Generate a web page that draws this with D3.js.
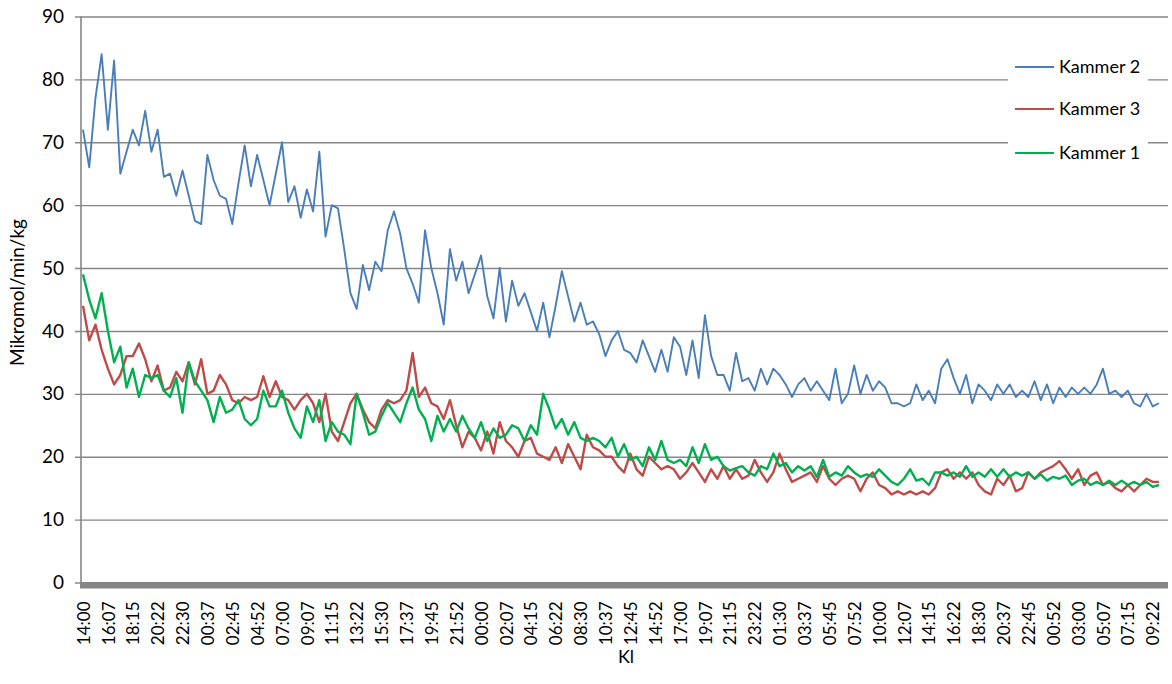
<!DOCTYPE html>
<html>
<head>
<meta charset="utf-8">
<script src="https://cdn.jsdelivr.net/npm/d3@7/dist/d3.min.js"></script>
<style>
  body { margin: 0; background: #fff; }
  text { font-family: Lato, "Open Sans", sans-serif; fill: #000; }
</style>
</head>
<body>
<script>
// x-axis category labels (one every 4 samples)
const timeLabels = ["14:00","16:07","18:15","20:22","22:30","00:37","02:45","04:52","07:00","09:07",
  "11:15","13:22","15:30","17:37","19:45","21:52","00:00","02:07","04:15","06:22",
  "08:30","10:37","12:45","14:52","17:00","19:07","21:15","23:22","01:30","03:37",
  "05:45","07:52","10:00","12:07","14:15","16:22","18:30","20:37","22:45","00:52",
  "03:00","05:07","07:15","09:22"];
const perLabel = 4;

// Mikromol/min/kg
const kammer2 = [72,66,77,84,72,83,65,68.5,72,69.5,
  75,68.5,72,64.5,65,61.5,65.5,61.5,57.5,57,
  68,64,61.5,61,57,63.5,69.5,63,68,64,
  60,65,70,60.5,63,58,62.5,59,68.5,55,
  60,59.5,53,46,43.5,50.5,46.5,51,49.5,56,
  59,55.5,50,47.5,44.5,56,50,46,41,53,
  48,51,46,49,52,45.5,42,50,41.5,48,
  44,46,43,40,44.5,39,44,49.5,45.5,41.5,
  44.5,41,41.5,39.5,36,38.5,40,37,36.5,35,
  38.5,36,33.5,37,33.5,39,37.5,33,38.5,32.5,
  42.5,36,33,33,30.5,36.5,32,32.5,30.5,34,
  31.5,34,33,31.5,29.5,31.5,32.5,30.5,32,30.5,
  29,34,28.5,30,34.5,30,33,30.5,32,31,
  28.5,28.5,28,28.5,31.5,29,30.5,28.5,34,35.5,
  32.5,30,33,28.5,31.5,30.5,29,31.5,30,31.5,
  29.5,30.5,29.5,32,29,31.5,28.5,31,29.5,31,
  30,31,30,31.5,34,30,30.5,29.5,30.5,28.5,
  28,30,28,28.5];
const kammer3 = [44,38.5,41,37,34,31.5,33,36,36,38,
  35.5,32,34.5,30.5,31,33.5,32,35,31.5,35.5,
  30,30.5,33,31.5,29,28.5,29.5,29,29.5,32.8,
  29.5,32,29.5,29,27.5,29,30,28.5,25.5,30,
  24,22.5,25.5,28.5,30,27.5,25.5,24.5,27.5,29,
  28.5,29,30.5,36.5,29.5,31,28.5,28,26,29,
  25,21.5,24,23,21,24,20.5,25.5,22.5,21.5,
  20,22.5,23,20.5,20,19.5,21.5,19,22,20,
  18,23.5,21.5,21,20,20,18.5,17.5,20.5,18,
  17,20,19,18,18.5,18,16.5,17.5,19,17.5,
  16,18,16.5,18.5,16.5,18,16.5,17,19.5,17.5,
  16,17.5,20.5,18,16,16.5,17,17.5,16,18.5,
  16.5,15.5,16.5,17,16.5,14.5,16.5,17.5,15.5,15,
  14,14.5,14,14.5,14,14.5,14,15,17.5,18,
  16.5,17.5,16.5,17.5,15.5,14.5,14,16.5,15.5,17,
  14.5,15,17.5,16.5,17.5,18,18.5,19.3,18,16.5,
  18,15.5,17,17.5,15.5,16,15,14.5,15.5,14.5,
  15.5,16.5,16,16];
const kammer1 = [49,45,42,46,40,35,37.5,31,34,29.5,
  33,32.5,33,30.5,29.5,32.5,27,35,32,30.5,
  29,25.5,29.5,27,27.5,29,26,25,26,30.5,
  28,28,30.5,27,24.5,23,28,25.5,29,22.5,
  25.5,24,23.5,22,30,27,23.5,24,26.5,28.5,
  27,25.5,28.5,31,27.5,26,22.5,26.5,24,26,
  24,26.5,24.5,23,25.5,22.5,24.5,23,23.5,25,
  24.5,22.5,25,23.5,30,27.5,24.5,26,23.5,25.5,
  23,22.5,23,22.5,21.5,23,20,22,19.5,20,
  18.5,21.5,19.5,22.5,19.5,19,19.5,18.5,21.5,19,
  22,19.5,20,18.5,17.8,18.2,18.5,17.5,17,18.5,
  18,20.5,18.5,19,17.5,18.5,17.8,18.5,16.8,19.5,
  16.8,17.5,17,18.5,17.5,16.8,17.2,16.8,18,17,
  16,15.5,16.5,18,16.2,16.5,15.5,17.5,17.5,17,
  17.5,16.8,18.5,16.8,17.5,16.8,18,16.8,18,16.8,
  17.5,17,17.5,16.5,17.2,16.2,16.8,16.5,17,15.5,
  16.2,16.5,15.5,16,15.5,16.2,15.5,16.2,15.5,16,
  15.5,16,15.2,15.5];

const seriesNames = ["Kammer 2", "Kammer 3", "Kammer 1"];
const seriesColors = ["#4a7ebb", "#be4b48", "#00b050"];
const yTicks = d3.range(0, 91, 10);

((g) => {
  const w = 1172, h = 684;
  const left = 81, right = 1168, top = 16.5, bottom = 582.5;

  const svg = d3.select("body").append("svg")
    .attr("width", w)
    .attr("height", h);

  const yScale = d3.scaleLinear().domain([0, 90]).range([bottom, top]);
  // label index -> pixel
  const xScale = d3.scaleLinear().domain([0, timeLabels.length - 1]).range([83, 1152.7]);

  // gridlines + y labels
  const gy = svg.append("g")
    .attr("transform", "translate(" + (left - 6) + ",0)")
    .call(d3.axisLeft(yScale).tickValues(yTicks).tickSize(0));
  gy.select(".domain").remove();
  gy.selectAll(".tick line")
    .attr("stroke", "#868686")
    .attr("stroke-width", 1.4)
    .attr("x1", right - left + 6).attr("x2", 0);
  gy.selectAll(".tick text")
    .attr("x", -11)
    .style("font-size", "19px");

  // y axis line
  svg.append("line")
    .attr("x1", left).attr("x2", left)
    .attr("y1", top).attr("y2", bottom)
    .attr("stroke", "#868686")
    .attr("stroke-width", 1.6);

  // x axis: dense tick marks look like a solid band
  svg.append("rect")
    .attr("x", left - 1)
    .attr("y", yScale(0) - 0.5)
    .attr("width", right - left + 1)
    .attr("height", 6.5)
    .attr("fill", "#868686");

  const gx = svg.append("g")
    .attr("transform", "translate(0," + (yScale(0) + 6) + ")")
    .call(d3.axisBottom(xScale).tickValues(d3.range(timeLabels.length)).tickFormat((i) => timeLabels[i]).tickSize(0));
  gx.select(".domain").remove();
  gx.selectAll(".tick text")
    .attr("transform", "rotate(-90)")
    .attr("text-anchor", "end")
    .attr("x", -13)
    .attr("y", 0)
    .attr("dy", "0.36em")
    .style("font-size", "17px");

  // axis titles
  svg.append("text")
    .attr("transform", "translate(24," + ((top + bottom) / 2 - 7) + ") rotate(-90)")
    .attr("text-anchor", "middle")
    .style("font-size", "19px")
    .text("Mikromol/min/kg");
  svg.append("text")
    .attr("x", 626).attr("y", 663)
    .attr("text-anchor", "middle")
    .style("font-size", "18px")
    .text("Kl");

  // lines
  const line = d3.line()
    .x((d, i) => xScale(i / perLabel))
    .y((d) => yScale(d));

  const allSeries = [kammer2, kammer3, kammer1];
  const widths = [1.9, 2.4, 2.4];
  allSeries.forEach((s, k) => {
    svg.append("path")
      .datum(s)
      .attr("fill", "none")
      .attr("stroke", seriesColors[k])
      .attr("stroke-width", widths[k])
      .attr("stroke-linejoin", "round")
      .attr("d", line);
  });

  // legend
  const lg = svg.append("g").attr("transform", "translate(1008,48)");
  lg.append("rect")
    .attr("width", 140).attr("height", 124)
    .attr("fill", "#fff");
  seriesNames.forEach((name, k) => {
    const yy = [19, 61, 105][k];
    lg.append("line")
      .attr("x1", 7).attr("x2", 46)
      .attr("y1", yy).attr("y2", yy)
      .attr("stroke", seriesColors[k])
      .attr("stroke-width", 2);
    lg.append("text")
      .attr("x", 51).attr("y", yy)
      .attr("dy", "0.35em")
      .style("font-size", "18px")
      .text(name);
  });

})(this);
</script>
</body>
</html>
